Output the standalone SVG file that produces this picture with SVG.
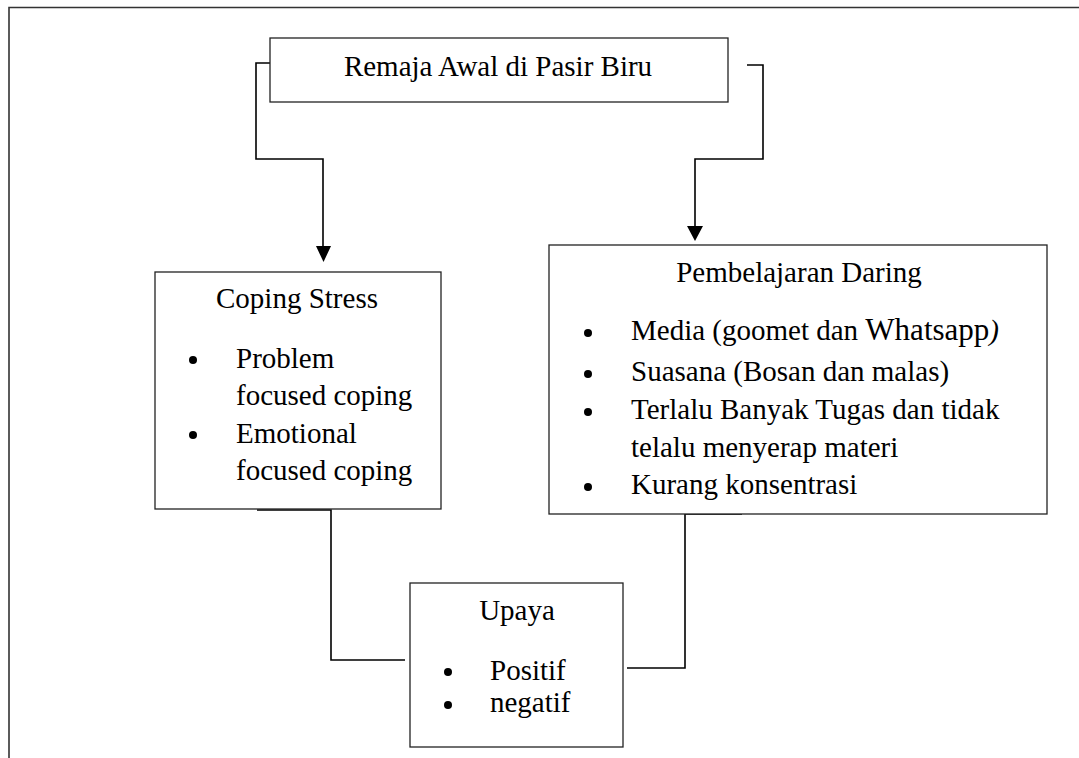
<svg xmlns="http://www.w3.org/2000/svg" width="1079" height="758" viewBox="0 0 1079 758">
<style>
.box{fill:#fff;stroke:#222;stroke-width:1.3}
.t{font-family:"Liberation Serif","Times New Roman",serif;font-size:29px;fill:#000}
.c{text-anchor:middle}
.line{fill:none;stroke:#000;stroke-width:1.6}
.frame{fill:none;stroke:#333;stroke-width:1.6}
.bul{fill:#000}
</style>
<rect width="1079" height="758" fill="#fff"/>
<path class="frame" d="M9,758 V7.5 H1079"/>
<g id="connectors">
<path class="line" d="M270,63 H256 V159 H323 V248"/>
<polygon points="316,246 331,246 323.5,262" fill="#000"/>
<path class="line" d="M747,65 H763 V159 H695 V228"/>
<polygon points="687,226 703,226 695,241" fill="#000"/>
<path class="line" d="M257,510 H331 V660 H405"/>
<path class="line" d="M742,514 H685 V668 H627"/>
</g>
<g id="node-remaja">
<rect class="box" x="270" y="38" width="458" height="64"/>
<text class="t c" x="498" y="76" font-size="28">Remaja Awal di Pasir Biru</text>
</g>
<g id="node-coping">
<rect class="box" x="155" y="272" width="286" height="237"/>
<text class="t c" x="297" y="308">Coping Stress</text>
<circle class="bul" cx="193" cy="360" r="4"/>
<text class="t" x="236" y="368">Problem</text>
<text class="t" x="236" y="405">focused coping</text>
<circle class="bul" cx="193" cy="435" r="4"/>
<text class="t" x="236" y="443">Emotional</text>
<text class="t" x="236" y="480">focused coping</text>
</g>
<g id="node-pembelajaran">
<rect class="box" x="549" y="245" width="498" height="269"/>
<text class="t c" x="799" y="282">Pembelajaran Daring</text>
<circle class="bul" cx="588" cy="333" r="4"/>
<text class="t" x="631" y="340">Media (goomet dan <tspan font-size="31">Whatsapp</tspan><tspan font-style="italic">)</tspan></text>
<circle class="bul" cx="588" cy="374" r="4"/>
<text class="t" x="631" y="381">Suasana (Bosan dan malas)</text>
<circle class="bul" cx="588" cy="412" r="4"/>
<text class="t" x="631" y="419">Terlalu Banyak Tugas dan tidak</text>
<text class="t" x="631" y="457">telalu menyerap materi</text>
<circle class="bul" cx="588" cy="487" r="4"/>
<text class="t" x="631" y="494">Kurang konsentrasi</text>
</g>
<g id="node-upaya">
<rect class="box" x="410" y="583" width="213" height="164"/>
<text class="t c" x="517" y="620">Upaya</text>
<circle class="bul" cx="448" cy="672" r="4"/>
<text class="t" x="490" y="680">Positif</text>
<circle class="bul" cx="448" cy="705" r="4"/>
<text class="t" x="490" y="712">negatif</text>
</g>
</svg>
